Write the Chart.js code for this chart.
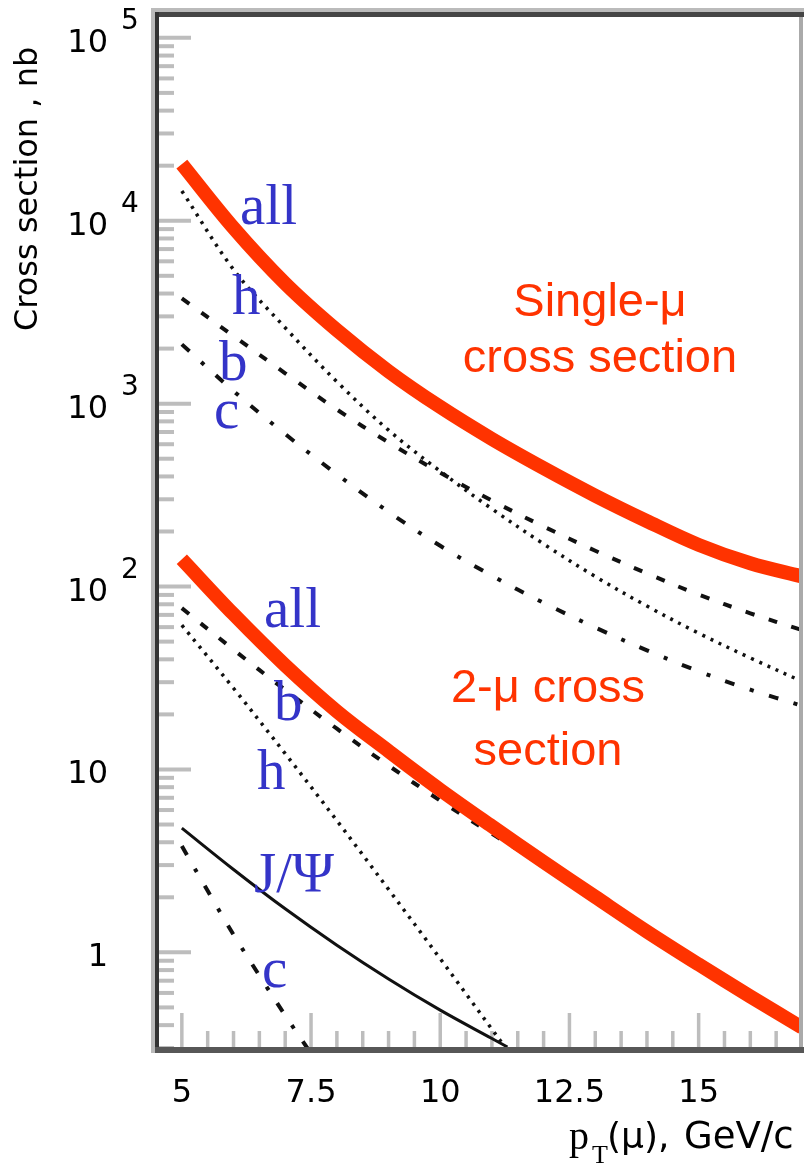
<!DOCTYPE html>
<html>
<head>
<meta charset="utf-8">
<script src="https://cdn.jsdelivr.net/npm/chart.js@4.4.1/dist/chart.umd.min.js"></script>
<style>
  html, body { margin: 0; padding: 0; background: #ffffff; }
  canvas { display: block; }
</style>
</head>
<body>
<canvas id="xsec" width="804" height="1166"></canvas>
<script>
// Transverse momentum grid, GeV/c
const ptGrid = [5, 6, 7, 8, 9, 10, 11, 12, 13, 14, 15, 16, 17];

// Single-muon cross sections, nb
const singleAll = [20400, 9140, 4540, 2523, 1503, 959, 641, 444, 314, 228, 169, 134, 113.5];
const singleH   = [14550, 5410, 2600, 1318, 716, 427, 266, 171, 113.5, 78.2, 55.6, 40.7, 30.3];
const singleB   = [3758, 2344, 1466, 929, 614, 419, 295, 213, 157, 118, 90.4, 71.4, 57.8];
const singleC   = [2109, 1172, 682, 411, 256, 167, 114.6, 81.5, 59.7, 44.8, 34.4, 27.3, 22.3];

// Dimuon cross sections, nb
const doubleAll = [141, 70.6, 37.1, 20.8, 12.6, 7.74, 4.89, 3.12, 2.01, 1.30, 0.859, 0.574, 0.388];
const doubleB   = [76.2, 45.2, 27.2, 16.7, 10.5, 6.76, 4.45, 2.99, 1.97, 1.27, 0.841, 0.562, 0.380];
const ptDoubleH = [5, 6, 7, 8, 9, 10, 11, 11.3];
const doubleH   = [61.5, 27.8, 12.2, 5.25, 2.21, 0.923, 0.380, 0.292];
const ptJpsi    = [5, 6, 7, 8, 9, 10, 11, 11.3];
const jpsi      = [4.78, 2.84, 1.73, 1.094, 0.715, 0.483, 0.338, 0.304];
const ptDoubleC = [5, 5.5, 6, 6.5, 7, 7.5];
const doubleC   = [3.81, 2.17, 1.25, 0.747, 0.452, 0.28];

// Axis ticks
const xMajorTicks = [5, 7.5, 10, 12.5, 15];
const xTickLabels = ['5', '7.5', '10', '12.5', '15'];
const yDecades = [1, 10, 100, 1000, 10000, 100000];
const yTickLabels = [['1', ''], ['10', ''], ['10', '2'], ['10', '3'], ['10', '4'], ['10', '5']];

const RED = '#ff3300';
const INK = '#111111';
const BLUE = '#3434c8';

function pts(xs, ys) { return xs.map((x, i) => ({ x: x, y: ys[i] })); }

function curve(xs, ys, color, width, dash, order) {
  return {
    data: pts(xs, ys),
    borderColor: color,
    borderWidth: width,
    borderDash: dash,
    borderCapStyle: 'butt',
    pointRadius: 0,
    fill: false,
    tension: 0.35,
    order: order
  };
}

const DOTS = [3, 6];
const DASHES = [9, 15];
const DASHDOT = [10, 16, 4, 16];

const datasets = [
  curve(ptGrid, singleAll, RED, 14, [], 0),
  curve(ptGrid, doubleAll, RED, 14, [], 0),
  curve(ptGrid, singleH, INK, 3.5, DOTS, 1),
  curve(ptGrid, singleB, INK, 4, DASHES, 1),
  curve(ptGrid, singleC, INK, 4, DASHDOT, 1),
  curve(ptGrid, doubleB, INK, 4, DASHES, 1),
  curve(ptDoubleH, doubleH, INK, 3.5, DOTS, 1),
  curve(ptJpsi, jpsi, INK, 3, [], 1),
  curve(ptDoubleC, doubleC, INK, 4, DASHDOT, 1)
];

function seg(ctx, x1, y1, x2, y2) {
  ctx.beginPath();
  ctx.moveTo(x1, y1);
  ctx.lineTo(x2, y2);
  ctx.stroke();
}

// Inward tick marks along the left and bottom axes
const innerTicks = {
  id: 'innerTicks',
  beforeDatasetsDraw(chart) {
    const ctx = chart.ctx, a = chart.chartArea;
    const xs = chart.scales.x, ys = chart.scales.y;
    ctx.save();
    ctx.strokeStyle = '#bdbdbd';
    ctx.lineWidth = 4;
    for (let e = -1; e <= 5; e++) {
      for (let k = 1; k <= 9; k++) {
        const v = k * Math.pow(10, e);
        if (v < ys.min || v > ys.max) continue;
        const py = ys.getPixelForValue(v);
        seg(ctx, a.left, py, a.left + (k === 1 ? 35 : 18), py);
      }
    }
    ctx.lineWidth = 3.5;
    for (let i = 1; i * 0.5 + xs.min < xs.max; i++) {
      const v = xs.min + i * 0.5;
      const px = xs.getPixelForValue(v);
      const major = xMajorTicks.indexOf(v) >= 0;
      seg(ctx, px, a.bottom, px, a.bottom - (major ? 35 : 17));
    }
    ctx.restore();
  }
};

// Frame, tick labels, axis titles and curve annotations
const decorations = {
  id: 'decorations',
  afterDatasetsDraw(chart) {
    const ctx = chart.ctx;
    const xs = chart.scales.x, ys = chart.scales.y;
    ctx.save();

    // frame
    ctx.strokeStyle = '#bbbbbb'; ctx.lineWidth = 4;
    seg(ctx, 151, 10, 804, 10);
    seg(ctx, 153, 8, 153, 1053);
    ctx.strokeStyle = '#aaaaaa'; ctx.lineWidth = 4;
    seg(ctx, 801, 12, 801, 1050);
    ctx.strokeStyle = '#454545'; ctx.lineWidth = 5;
    seg(ctx, 155, 14.5, 804, 14.5);
    ctx.strokeStyle = '#333333'; ctx.lineWidth = 4;
    seg(ctx, 157, 12, 157, 1053);
    ctx.strokeStyle = '#575757'; ctx.lineWidth = 6;
    seg(ctx, 155, 1050, 804, 1050);

    // y tick labels
    ctx.fillStyle = '#000000';
    ctx.textBaseline = 'alphabetic';
    yDecades.forEach((v, i) => {
      const py = ys.getPixelForValue(v);
      ctx.font = '32px "DejaVu Sans"';
      ctx.textAlign = 'right';
      ctx.fillText(yTickLabels[i][0], 108, py + 14);
      if (yTickLabels[i][1]) {
        ctx.font = '28px "DejaVu Sans"';
        ctx.textAlign = 'left';
        ctx.fillText(yTickLabels[i][1], 121, py - 9);
      }
    });

    // x tick labels
    ctx.font = '32px "DejaVu Sans"';
    ctx.textAlign = 'center';
    xMajorTicks.forEach((v, i) => {
      ctx.fillText(xTickLabels[i], xs.getPixelForValue(v), 1102);
    });

    // y axis title
    ctx.save();
    ctx.translate(37, 331);
    ctx.rotate(-Math.PI / 2);
    ctx.textAlign = 'left';
    ctx.font = '32px "DejaVu Sans"';
    ctx.fillText('Cross section , nb', 0, 0);
    ctx.restore();

    // x axis title
    ctx.textAlign = 'left';
    ctx.font = '40px "Liberation Serif"';
    ctx.fillText('p', 569, 1149);
    ctx.font = '26px "Liberation Serif"';
    ctx.fillText('T', 592, 1163);
    ctx.font = '36px "DejaVu Sans"';
    ctx.fillText('(\u03bc),', 607, 1148);
    ctx.font = '37px "DejaVu Sans"';
    ctx.fillText('GeV/c', 684, 1148);

    // curve labels
    ctx.fillStyle = BLUE;
    ctx.font = '57px "Liberation Serif"';
    ctx.textAlign = 'left';
    [['all', 240, 224], ['h', 232, 314], ['b', 219, 380], ['c', 214, 428],
     ['all', 264, 627], ['b', 274, 720], ['h', 257, 789], ['J/\u03a8', 254, 892], ['c', 262, 987]]
      .forEach(t => ctx.fillText(t[0], t[1], t[2]));

    // group captions
    ctx.fillStyle = RED;
    ctx.font = '47px "Liberation Sans"';
    ctx.textAlign = 'center';
    ctx.fillText('Single-\u03bc', 600, 316);
    ctx.fillText('cross section', 600, 372);
    ctx.fillText('2-\u03bc cross', 548, 702);
    ctx.fillText('section', 548, 765);

    ctx.restore();
  }
};

new Chart(document.getElementById('xsec'), {
  type: 'line',
  data: { datasets: datasets },
  options: {
    responsive: false,
    devicePixelRatio: 1,
    animation: false,
    events: [],
    layout: { padding: { top: 14, right: 2, left: 0, bottom: 0 } },
    plugins: { legend: { display: false }, tooltip: { enabled: false } },
    scales: {
      x: {
        type: 'linear',
        min: 4.5,
        max: 17,
        grid: { display: false },
        border: { display: false },
        ticks: { display: false },
        afterFit(scale) { scale.height = 118; }
      },
      y: {
        type: 'logarithmic',
        min: 0.318,
        max: 135000,
        grid: { display: false },
        border: { display: false },
        ticks: { display: false },
        afterFit(scale) { scale.width = 156; }
      }
    }
  },
  plugins: [innerTicks, decorations]
});
</script>
</body>
</html>
